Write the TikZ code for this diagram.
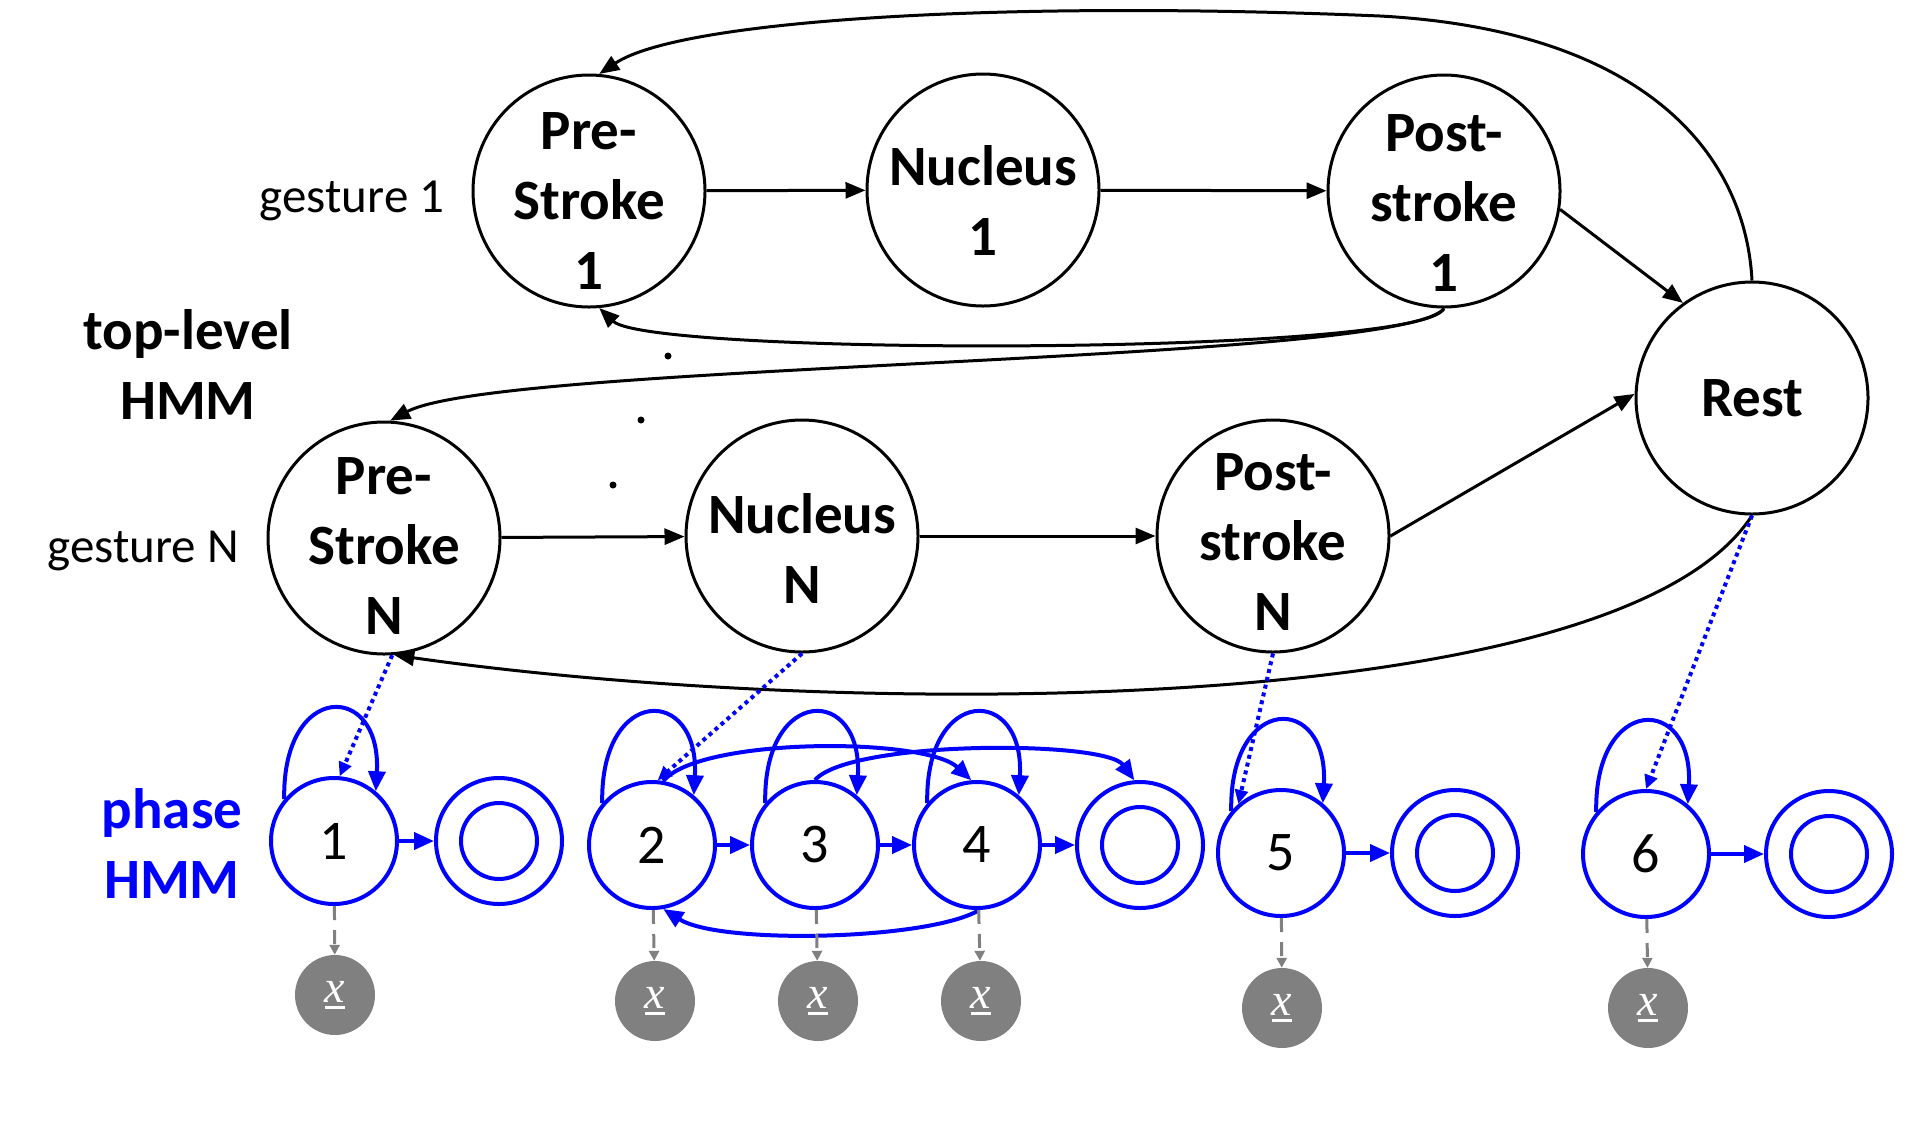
\documentclass[tikz,border=0pt]{standalone}
\usepackage{fontspec}
\setmainfont{Carlito}
\newfontfamily\xfont{Liberation Serif}
\newcommand\ulx{\vbox{\hbox{\xfont\itshape x}\kern3pt\hrule height 3pt}}
\usetikzlibrary{arrows.meta,calc}
\begin{document}
\begin{tikzpicture}[x=1pt,y=-1pt,
  topst/.style={circle, draw, line width=3pt, minimum size=232pt, inner sep=0pt},
  ttext/.style={font=\fontsize{57}{70}\selectfont\bfseries, align=center},
  lbl/.style={font=\fontsize{49}{49}\selectfont, anchor=base},
  phst/.style={circle, draw=blue, line width=4pt, minimum size=126pt, inner sep=0pt, font=\fontsize{56}{56}\selectfont},
  finst/.style={circle, draw=blue, line width=4pt, minimum size=126pt, inner sep=0pt,
     path picture={\draw[blue, line width=4pt] (path picture bounding box.center) circle (38pt);}},
  obsst/.style={circle, fill=gray, minimum size=80pt, inner sep=0pt, text=white, font=\fontsize{46}{46}\selectfont},
  dotst/.style={circle, fill=black, minimum size=7pt, inner sep=0pt},
  blk/.style={line width=3pt, -{Triangle[length=20pt,width=16pt]}},
  bl/.style={blue, line width=4pt, -{Triangle[length=20pt,width=17pt]}},
  dotarr/.style={blue, line width=4pt, dash pattern=on 4pt off 4pt, -{Triangle[length=14pt,width=13pt]}},
  obsarr/.style={gray, line width=3pt, dash pattern=on 14pt off 10pt, -{Triangle[length=10pt,width=10pt]}}
]
\useasboundingbox (0,0) rectangle (1932,1125);

% top-level nodes
\node[topst, label={[ttext,yshift=-10pt]center:Pre-\\Stroke\\1}] (pre1) at (589,191) {};
\node[topst, label={[ttext,yshift=-10pt]center:Nucleus\\1}] (nuc1) at (983,190) {};
\node[topst, label={[ttext,yshift=-12pt]center:Post-\\stroke\\1}] (post1) at (1444,191) {};
\node[topst, label={[ttext]center:Rest}] (rest) at (1752,398) {};
\node[topst, label={[ttext,yshift=-8pt]center:Pre-\\Stroke\\N}] (preN) at (384,538) {};
\node[topst, label={[ttext,yshift=-12pt]center:Nucleus\\N}] (nucN) at (802,536) {};
\node[topst, label={[ttext,yshift=-6pt]center:Post-\\stroke\\N}] (postN) at (1273,536) {};

% labels
\node[lbl] (g1) at (352,212) {gesture 1};
\node[lbl] (gN) at (143,562) {gesture N};
\node[ttext] (tl) at (188,364) {top-level\\HMM};
\node[ttext, text=blue] (ph) at (172,843) {phase\\HMM};

% dots
\node[dotst] (d1) at (668,356) {};
\node[dotst] (d2) at (641,420) {};
\node[dotst] (d3) at (613,485) {};

% phase states
\node[phst] (n1) at (334,841) {1};
\node[finst] (f1) at (499,841) {};
\node[phst] (n2) at (652,845) {2};
\node[phst] (n3) at (815,845) {3};
\node[phst] (n4) at (977,845) {4};
\node[finst] (f2) at (1140,845) {};
\node[phst] (n5) at (1281,853) {5};
\node[finst] (f5) at (1455,853) {};
\node[phst] (n6) at (1646,854) {6};
\node[finst] (f6) at (1829,854) {};

% observations
\node[obsst] (x1) at (335,995) {\ulx};
\node[obsst] (x2) at (655,1001) {\ulx};
\node[obsst] (x3) at (818,1001) {\ulx};
\node[obsst] (x4) at (981,1001) {\ulx};
\node[obsst] (x5) at (1282,1008) {\ulx};
\node[obsst] (x6) at (1648,1008) {\ulx};

% top-level edges
\draw[blk] (pre1) -- (nuc1);
\draw[blk] (nuc1) -- (post1);
\draw[blk] (post1.-9) -- (rest.126);
\draw[blk] (preN) -- (nucN);
\draw[blk] (nucN) -- (postN);
\draw[blk] (postN.east) -- (rest.178);
\draw[blk] (rest.90) .. controls (1745,150) and (1640,30) .. (1380,16) .. controls (1000,0) and (680,20) .. (pre1.85);
\draw[blk] (post1.south) .. controls (1420,356) and (650,356) .. (pre1.-85);
\draw[blk] (post1.south) .. controls (1400,364) and (500,362) .. (preN.87);
\draw[blk] (rest.south) .. controls (1620,720) and (850,720) .. (preN.-85);

% dotted links
\draw[dotarr] (preN.-86) -- (n1.85);
\draw[dotarr] (nucN.-90) -- (n2.85);
\draw[dotarr] (postN.-90) -- (n5.131);
\draw[dotarr] (rest.-90) -- (n6.90);

% self loops
\foreach \n in {n1,n2,n3,n4,n5,n6}{
  \draw[bl] (\n.140) .. controls ($(\n)+(-52,-160)$) and ($(\n)+(48,-160)$) .. (\n.50);
}

% phase transitions
\draw[bl] (n1) -- (f1);
\draw[bl] (n2) -- (n3);
\draw[bl] (n3) -- (n4);
\draw[bl] (n4) -- (f2);
\draw[bl] (n5) -- (f5);
\draw[bl] (n6) -- (f6);
\draw[bl] (n2.80) .. controls (700,737) and (925,737) .. (n4.95);
\draw[bl] (n3.90) .. controls (850,740) and (1105,740) .. (f2.95);
\draw[bl] (n4.-88) .. controls (930,940) and (720,945) .. (n2.-80);

% emissions
\draw[obsarr] (n1) -- (x1);
\draw[obsarr] (n2) -- (x2);
\draw[obsarr] (n3) -- (x3);
\draw[obsarr] (n4) -- (x4);
\draw[obsarr] (n5) -- (x5);
\draw[obsarr] (n6) -- (x6);
\end{tikzpicture}
\end{document}
